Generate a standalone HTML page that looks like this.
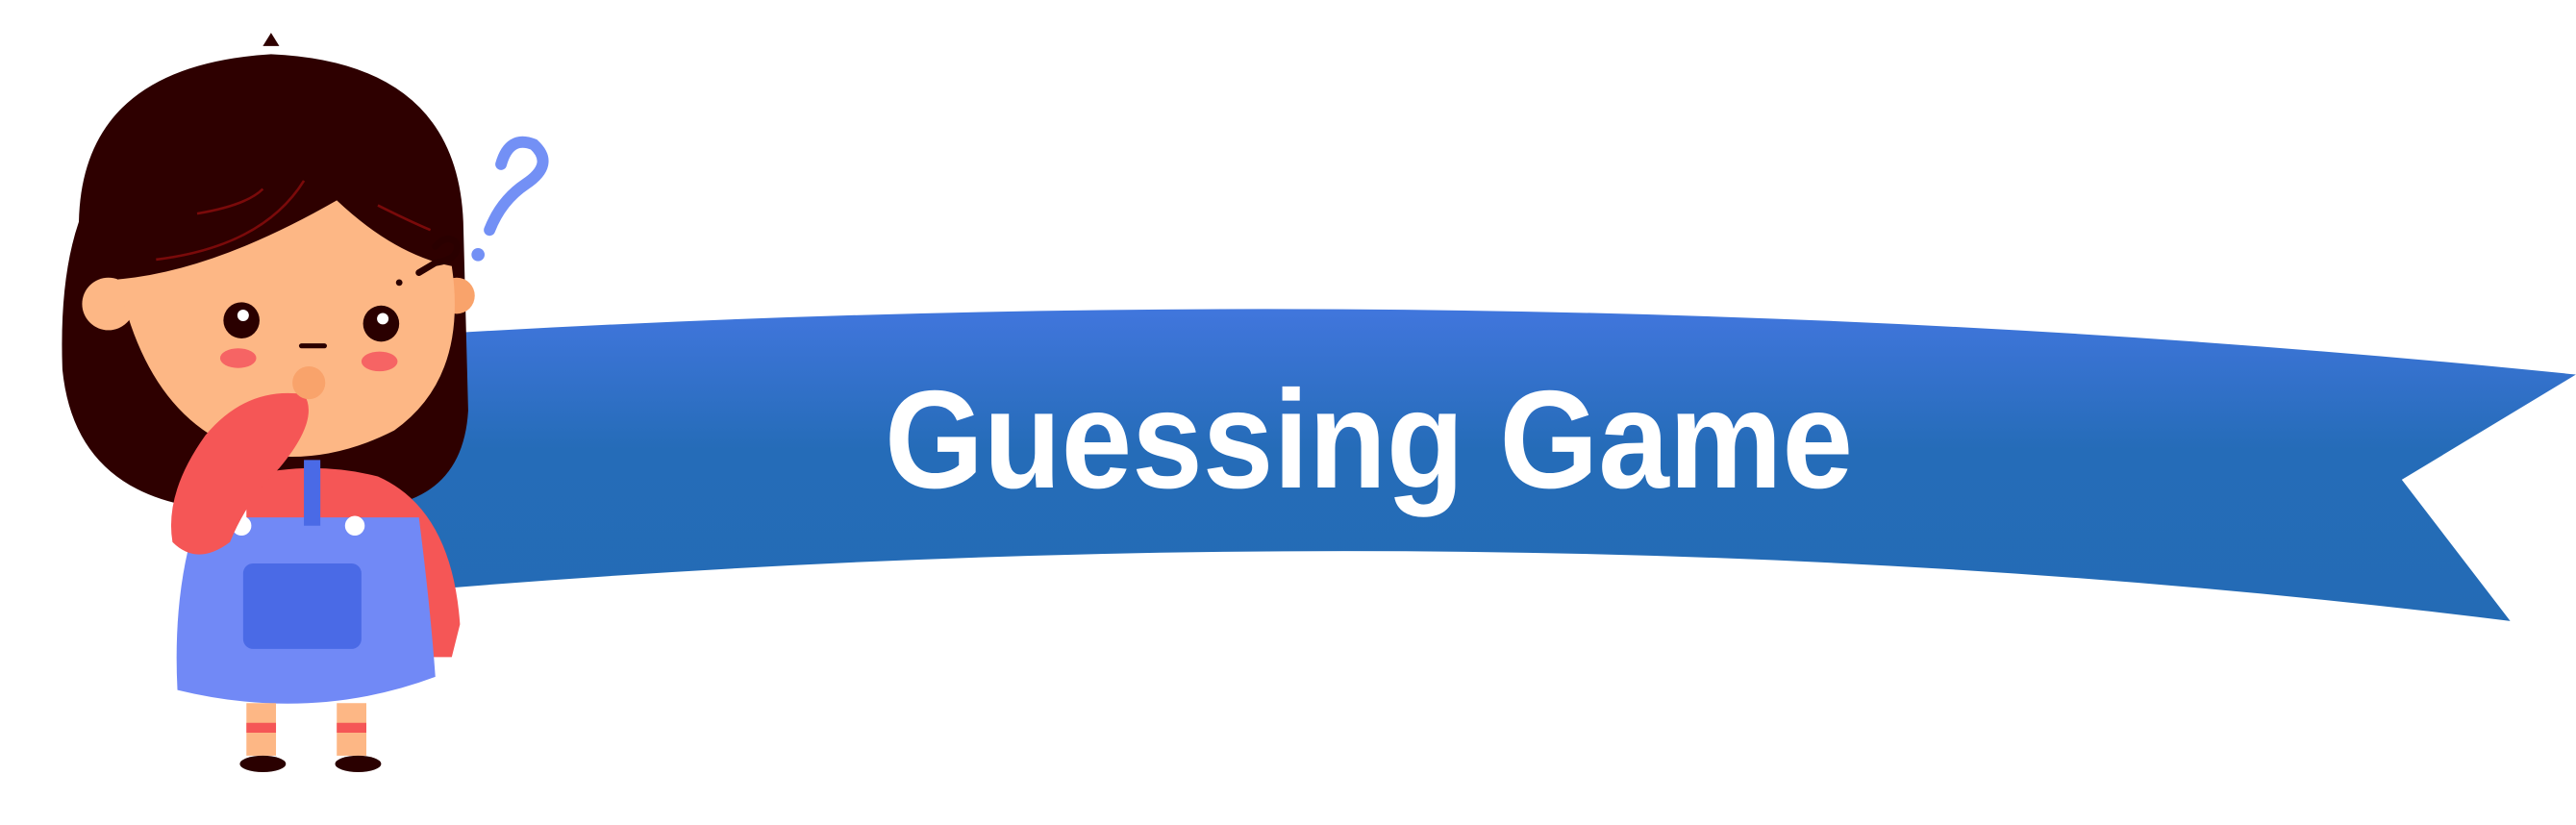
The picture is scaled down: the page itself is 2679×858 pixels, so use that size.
<!DOCTYPE html>
<html><head><meta charset="utf-8"><style>
html,body{margin:0;padding:0;background:#fff;width:2679px;height:858px;overflow:hidden}
svg{display:block}
</style></head><body>
<svg width="2679" height="858" viewBox="0 0 2679 858">
<defs>
<linearGradient id="rg" x1="0" y1="0" x2="0" y2="1">
<stop offset="0" stop-color="#4176dd"/><stop offset="0.45" stop-color="#256cb8"/><stop offset="1" stop-color="#246bb5"/>
</linearGradient>
</defs>
<g transform="scale(1.7085)">
<path d="M190,208 Q900,160 1568,228 L1462,292 L1528,378 Q900,300 190,365 Z" fill="url(#rg)"/>
<g>
<path d="M48,135 Q50,40 165,33 Q278,38 282,135 L285,250 Q282,300 235,308 L115,308 Q45,295 38,225 Q36,170 48,135 Z" fill="#2e0000"/>
<path d="M160,28 L165,20 L170,28 Z" fill="#2e0000"/>
<circle cx="66" cy="185" r="16" fill="#fdb785"/>
<circle cx="278" cy="180" r="11" fill="#f9a36b"/>
<path d="M72,170 Q130,165 205,122 Q240,155 275,162 Q285,230 240,262 Q195,285 150,275 Q90,255 72,170 Z" fill="#fdb785"/>
<path d="M120,130 Q150,125 160,115 M230,125 Q250,135 262,140 M95,158 Q160,150 185,110" stroke="#7a0a0a" stroke-width="1.5" fill="none"/>
<circle cx="147" cy="195" r="11" fill="#2a0000"/><circle cx="148" cy="192" r="3.5" fill="#fff"/>
<circle cx="232" cy="197" r="11" fill="#2a0000"/><circle cx="233" cy="194" r="3.5" fill="#fff"/>
<ellipse cx="145" cy="218" rx="11" ry="6" fill="#f66464"/>
<ellipse cx="231" cy="220" rx="11" ry="6" fill="#f66464"/>
<rect x="182" y="209" width="17" height="3" rx="1.5" fill="#2a0000"/>
<path d="M150,290 Q190,280 230,290 Q275,310 280,380 L275,400 L255,400 L245,320 L150,330 Z" fill="#f55656"/>
<path d="M120,315 L255,315 Q262,370 265,412 Q190,440 108,420 Q105,360 120,315 Z" fill="#7189f6"/>
<path d="M185,280 L195,280 L195,320 L185,320 Z" fill="#4a6ae6"/>
<rect x="148" y="343" width="72" height="52" rx="6" fill="#4a6ae6"/>
<circle cx="147" cy="320" r="6" fill="#fff"/><circle cx="216" cy="320" r="6" fill="#fff"/>
<path d="M105,330 Q100,300 125,265 Q150,235 185,240 Q195,255 170,285 Q150,305 140,330 Q120,345 105,330 Z" fill="#f55656"/>
<circle cx="188" cy="233" r="10" fill="#f9a36b"/>
<rect x="150" y="428" width="18" height="32" fill="#fdb785"/><rect x="205" y="428" width="18" height="32" fill="#fdb785"/>
<rect x="150" y="440" width="18" height="6" fill="#f55656"/><rect x="205" y="440" width="18" height="6" fill="#f55656"/>
<ellipse cx="160" cy="465" rx="14" ry="5" fill="#2a0000"/><ellipse cx="218" cy="465" rx="14" ry="5" fill="#2a0000"/>
<path d="M305,100 Q310,82 325,88 Q338,100 320,112 Q305,122 298,140" stroke="#7390f5" stroke-width="7" fill="none" stroke-linecap="round"/>
<circle cx="291" cy="155" r="4" fill="#7390f5"/>
<path d="M265,150 Q272,142 278,148 Q280,158 265,160 L255,166" stroke="#2a0000" stroke-width="4" fill="none" stroke-linecap="round"/>
<circle cx="243" cy="172" r="2" fill="#2a0000"/>
</g>
</g>
<text x="920" y="507" font-family="Liberation Sans, sans-serif" font-weight="bold" font-size="145" fill="#fff" textLength="1007" lengthAdjust="spacingAndGlyphs">Guessing Game</text>
</svg>
</body></html>
